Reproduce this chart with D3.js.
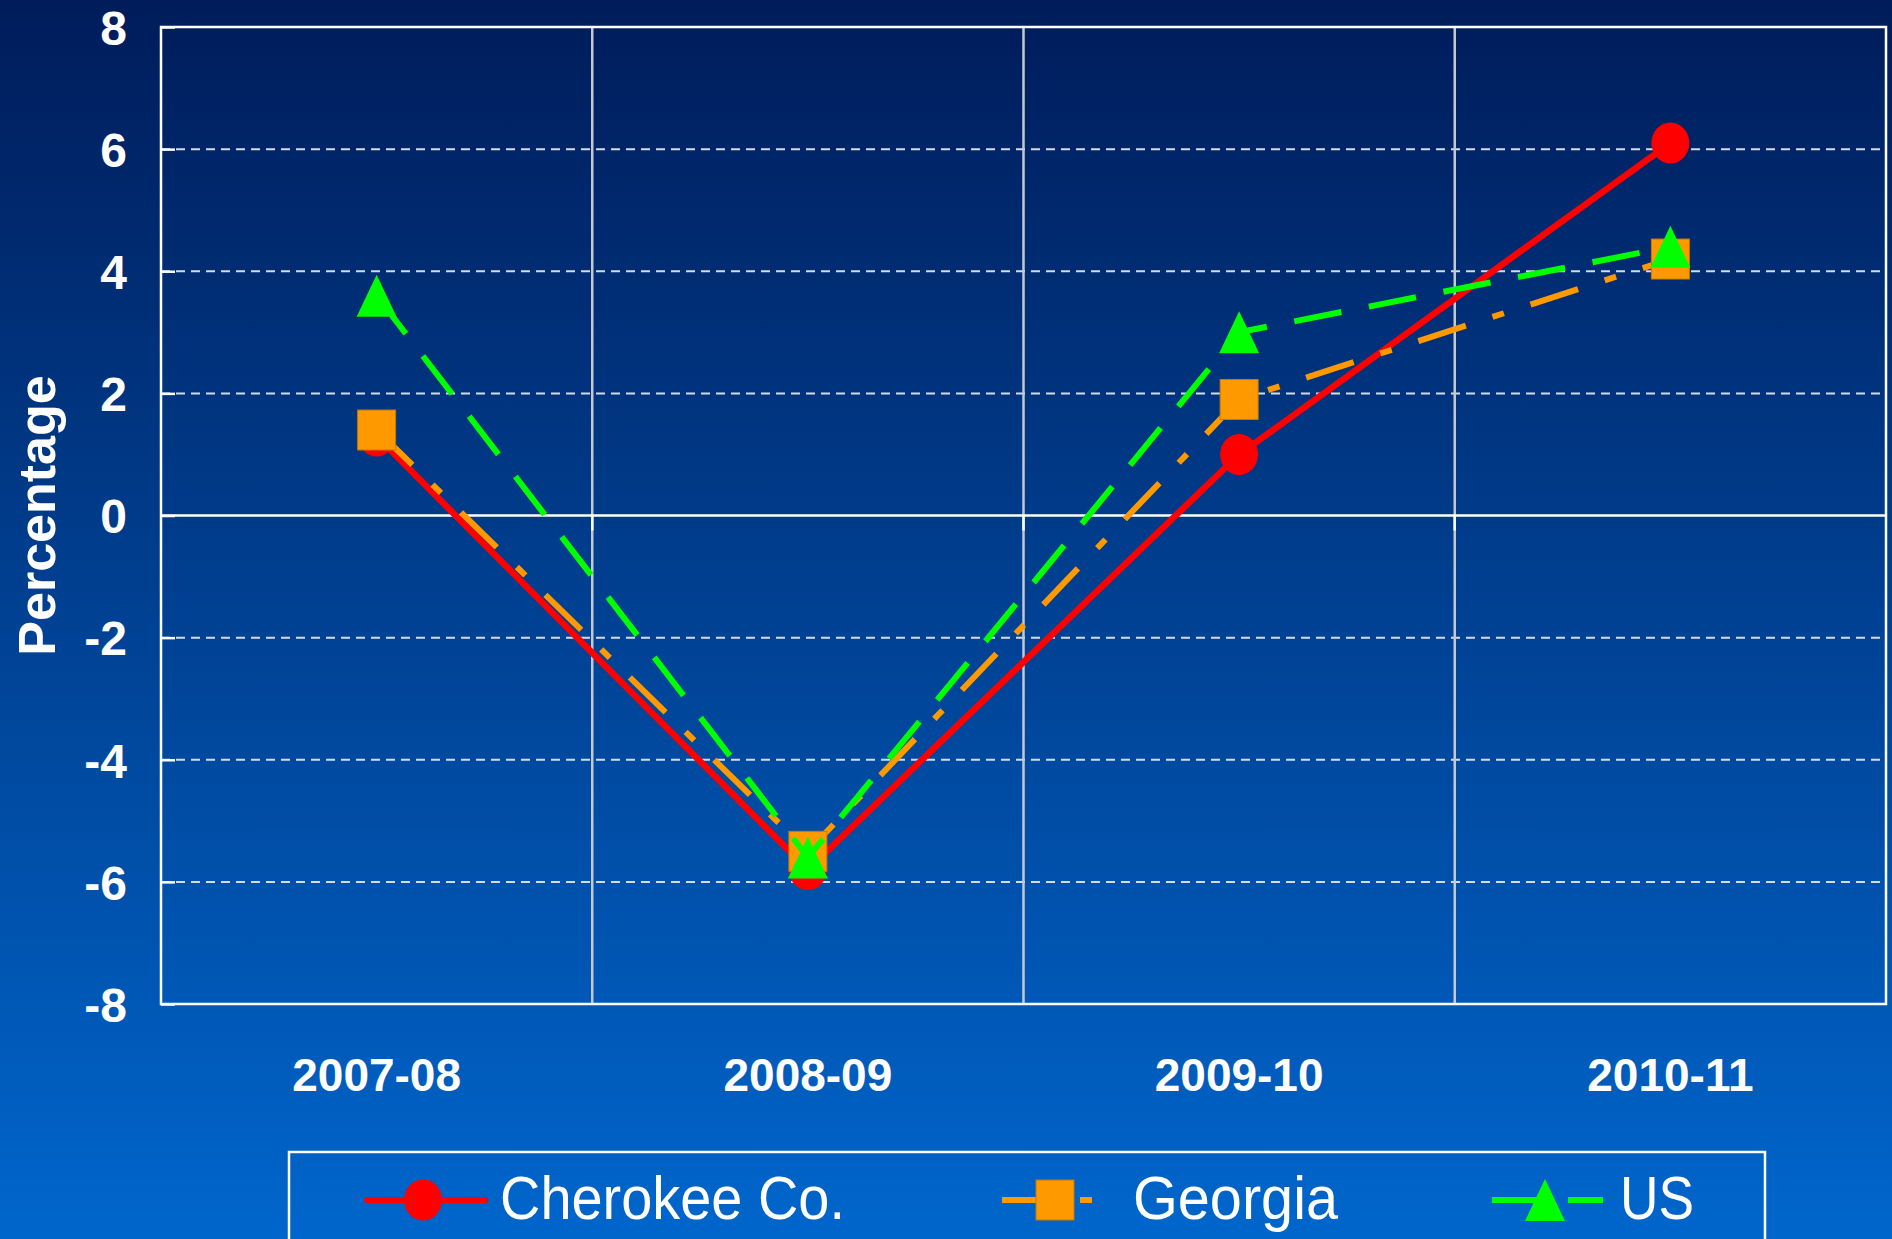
<!DOCTYPE html>
<html lang="en">
<head>
	<meta charset="utf-8">
	<title>Percentage change</title>
	<script src="https://d3js.org/d3.v7.min.js"></script>
	<style>
	body {margin: 0; background: #0066cc;}
	svg {display: block;}
	text {font-family: "Liberation Sans", Arial, sans-serif; fill: white;}
	</style>
</head>
<body>
<div id="chart"></div>
<script>

// Chart data
var categories = ["2007-08", "2008-09", "2009-10", "2010-11"];
var cherokee = [1.3, -5.8, 1.0, 6.1];
var georgia = [1.4, -5.5, 1.9, 4.2];
var us = [3.6, -5.6, 3.0, 4.4];
var seriesNames = ["Cherokee Co.", "Georgia", "US"];
var yTicks = [-8, -6, -4, -2, 0, 2, 4, 6, 8];

var chartWidth = 1892;
var chartHeight = 1239;
var plotLeft = 161, plotRight = 1886, plotTop = 27, plotBottom = 1004;

var svg = d3.select("#chart").append("svg")
	.attr("width", chartWidth)
	.attr("height", chartHeight);

// background gradient
var grad = svg.append("defs").append("linearGradient")
	.attr("id", "bg")
	.attr("x1", 0).attr("y1", 0).attr("x2", 0).attr("y2", 1);
grad.append("stop").attr("offset", "0%").attr("stop-color", "#001c5a");
grad.append("stop").attr("offset", "100%").attr("stop-color", "#0066cc");

svg.append("rect")
	.attr("width", chartWidth)
	.attr("height", chartHeight)
	.attr("fill", "url(#bg)");

// Scales
var xScale = d3.scaleBand()
	.domain(categories)
	.range([plotLeft, plotRight]);

var yScale = d3.scaleLinear()
	.domain([-8, 8])
	.range([plotBottom, plotTop]);

function cx(d, i) { return xScale(categories[i]) + xScale.bandwidth() / 2; }

// horizontal dashed gridlines
svg.append("g").selectAll("line")
	.data(yTicks.filter(function(v){ return v != 0 && v != 8 && v != -8; }))
	.enter().append("line")
		.attr("x1", plotLeft).attr("x2", plotRight)
		.attr("y1", function(d){ return yScale(d); })
		.attr("y2", function(d){ return yScale(d); })
		.attr("stroke", "#d4dcea")
		.attr("stroke-width", 2)
		.attr("stroke-dasharray", "9,6");

// vertical gridlines at category boundaries
svg.append("g").selectAll("line")
	.data(categories.slice(1))
	.enter().append("line")
		.attr("x1", function(d){ return xScale(d); })
		.attr("x2", function(d){ return xScale(d); })
		.attr("y1", plotTop).attr("y2", plotBottom)
		.attr("stroke", "#c4c8d0")
		.attr("stroke-width", 2.5);

// zero line and its tick marks
svg.append("line")
	.attr("x1", plotLeft).attr("x2", plotRight)
	.attr("y1", yScale(0)).attr("y2", yScale(0))
	.attr("stroke", "white")
	.attr("stroke-width", 2.5);

svg.append("g").selectAll("line")
	.data(categories.slice(1))
	.enter().append("line")
		.attr("x1", function(d){ return xScale(d); })
		.attr("x2", function(d){ return xScale(d); })
		.attr("y1", yScale(0)).attr("y2", yScale(0) + 15)
		.attr("stroke", "white")
		.attr("stroke-width", 2.5);

// plot border
svg.append("rect")
	.attr("x", plotLeft).attr("y", plotTop)
	.attr("width", plotRight - plotLeft).attr("height", plotBottom - plotTop)
	.attr("fill", "none")
	.attr("stroke", "white")
	.attr("stroke-width", 2.5);

// y axis (plain hyphen for negatives, like the original)
var yAxis = d3.axisLeft(yScale)
	.tickValues(yTicks)
	.tickFormat(function(d){ return String(d); })
	.tickSize(-14)
	.tickPadding(34);

var gy = svg.append("g")
	.attr("transform", "translate(" + plotLeft + ",0)")
	.call(yAxis);
gy.select(".domain").remove();
gy.selectAll("line").attr("stroke", "white").attr("stroke-width", 2.5);
gy.selectAll("text")
	.attr("fill", "white")
	.attr("dy", "0.36em")
	.style("font-family", "'Liberation Sans', Arial, sans-serif")
	.style("font-weight", "bold")
	.style("font-size", "48px");

// x axis labels
var xAxis = d3.axisBottom(xScale)
	.tickSize(0)
	.tickPadding(54);

var gx = svg.append("g")
	.attr("transform", "translate(0," + plotBottom + ")")
	.call(xAxis);
gx.select(".domain").remove();
gx.selectAll("text")
	.attr("fill", "white")
	.style("font-family", "'Liberation Sans', Arial, sans-serif")
	.style("font-weight", "bold")
	.style("font-size", "46px");

// y axis title
svg.append("text")
	.attr("transform", "translate(55," + ((plotTop + plotBottom) / 2) + ") rotate(-90)")
	.attr("text-anchor", "middle")
	.style("font-weight", "bold")
	.style("font-size", "52px")
	.text("Percentage");

// Series
var series = [
	{name: seriesNames[0], values: cherokee, color: "#ff0000", dash: null, width: 6.5, marker: "circle"},
	{name: seriesNames[1], values: georgia, color: "#ff9900", dash: "50,28,12,28", width: 6, marker: "square"},
	{name: seriesNames[2], values: us, color: "#00ff00", dash: "48,28", width: 6, marker: "triangle"}
];

var line = d3.line()
	.x(function(d, i){ return cx(d, i); })
	.y(function(d){ return yScale(d); });

function drawMarker(g, type, color) {
	if (type == "circle") {
		g.append("ellipse").attr("rx", 19).attr("ry", 20.5).attr("fill", color);
	} else if (type == "square") {
		g.append("rect").attr("x", -19).attr("y", -20).attr("width", 38).attr("height", 40)
			.attr("fill", color).attr("stroke", "#c87800").attr("stroke-width", 1);
	} else {
		g.append("path").attr("d", "M0,-21 L20,21 L-20,21 Z").attr("fill", color);
	}
}

series.forEach(function(s) {
	svg.append("path")
		.datum(s.values)
		.attr("d", line)
		.attr("fill", "none")
		.attr("stroke", s.color)
		.attr("stroke-width", s.width)
		.attr("stroke-dasharray", s.dash);

	svg.append("g").selectAll("g")
		.data(s.values)
		.enter().append("g")
			.attr("transform", function(d, i){ return "translate(" + cx(d, i) + "," + yScale(d) + ")"; })
			.each(function(){ drawMarker(d3.select(this), s.marker, s.color); });
});

// Legend
svg.append("rect")
	.attr("x", 289).attr("y", 1152)
	.attr("width", 1476).attr("height", 120)
	.attr("fill", "none")
	.attr("stroke", "white")
	.attr("stroke-width", 2.5);

var legendPos = [
	{x1: 367, x2: 485, m: 423, tx: 500, tw: 345},
	{x1: 1002, x2: 1092, m: 1055, tx: 1133, tw: 205},
	{x1: 1492, x2: 1603, m: 1545, tx: 1620, tw: 74}
];
var legendY = 1200;

series.forEach(function(s, i) {
	var p = legendPos[i];
	svg.append("line")
		.attr("x1", p.x1).attr("x2", p.x2)
		.attr("y1", legendY).attr("y2", legendY)
		.attr("stroke", s.color)
		.attr("stroke-width", 6)
		.attr("stroke-linecap", s.dash ? "butt" : "round")
		.attr("stroke-dasharray", s.dash);
	var g = svg.append("g").attr("transform", "translate(" + p.m + "," + legendY + ")");
	drawMarker(g, s.marker, s.color);
	svg.append("text")
		.attr("x", p.tx).attr("y", 1219)
		.attr("textLength", p.tw)
		.attr("lengthAdjust", "spacingAndGlyphs")
		.style("font-family", "'Liberation Sans Narrow', 'Arial Narrow', 'Liberation Sans', sans-serif")
		.style("font-size", "62px")
		.text(s.name);
});

</script>
</body>
</html>
